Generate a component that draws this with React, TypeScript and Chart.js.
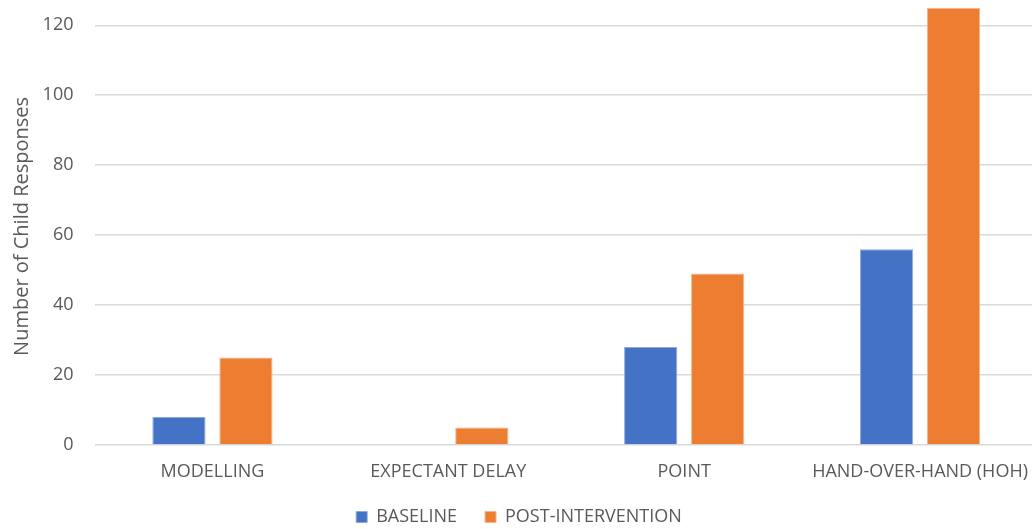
import { useEffect, useRef } from "react";
import { Chart, registerables } from "chart.js";

Chart.register(...registerables);

// Prompt categories and response counts per phase
const categories = ["MODELLING", "EXPECTANT DELAY", "POINT", "HAND-OVER-HAND (HOH)"];
const seriesNames = ["BASELINE", "POST-INTERVENTION"];
const baseline = [8, 0, 28, 56];
const postIntervention = [25, 5, 49, 125];

// Value axis
const yAxisTitle = "Number of Child Responses";
const yMin = 0;
const yMax = 125;
const yStep = 20;

const TEXT = "#595959";
const GRID = "#d9d9d9";
const FAMILY = "'Open Sans', 'Noto Sans', sans-serif";

export default function App() {
  const ref = useRef<HTMLCanvasElement>(null);

  useEffect(() => {
    const canvas = ref.current;
    if (!canvas) return;
    const chart = new Chart(canvas, {
      type: "bar",
      data: {
        labels: categories,
        datasets: [
          {
            label: seriesNames[0],
            data: baseline,
            backgroundColor: "#4472C4",
            borderColor: "#8eaadc",
            borderWidth: 1,
          },
          {
            label: seriesNames[1],
            data: postIntervention,
            backgroundColor: "#ED7D31",
            borderColor: "#f5b58c",
            borderWidth: 1,
          },
        ],
      },
      options: {
        responsive: false,
        animation: false,
        devicePixelRatio: 1,
        layout: { padding: 0 },
        datasets: { bar: { categoryPercentage: 0.568, barPercentage: 0.795 } },
        scales: {
          x: {
            grid: { display: false },
            border: { display: false },
            ticks: {
              color: TEXT,
              font: { family: FAMILY, size: 18 },
              padding: 8,
              maxRotation: 0,
              autoSkip: false,
            },
            afterFit: (s: any) => {
              s.height = 35;
            },
          },
          y: {
            min: yMin,
            max: yMax,
            ticks: {
              stepSize: yStep,
              includeBounds: false,
              padding: 21,
              color: TEXT,
              font: { family: FAMILY, size: 18 },
            },
            grid: { color: GRID, lineWidth: 1.5, drawTicks: false },
            border: { display: false },
            title: {
              display: true,
              text: yAxisTitle,
              color: TEXT,
              font: { family: FAMILY, size: 20 },
              padding: { top: 10, bottom: 0 },
            },
            afterFit: (s: any) => {
              s.width = 94.5;
            },
          },
        },
        plugins: {
          legend: {
            position: "bottom",
            labels: {
              boxWidth: 11,
              boxHeight: 11,
              padding: 28,
              color: TEXT,
              font: { family: FAMILY, size: 18 },
            },
          },
          tooltip: { enabled: false },
        },
      },
    });
    return () => chart.destroy();
  }, []);

  return (
    <div
      style={{
        position: "absolute",
        left: 0,
        top: 0,
        width: 1032,
        height: 529,
        overflow: "hidden",
        background: "#ffffff",
      }}
    >
      <canvas
        ref={ref}
        width={1038}
        height={560}
        style={{ position: "absolute", left: 0, top: -24, display: "block" }}
      />
    </div>
  );
}
